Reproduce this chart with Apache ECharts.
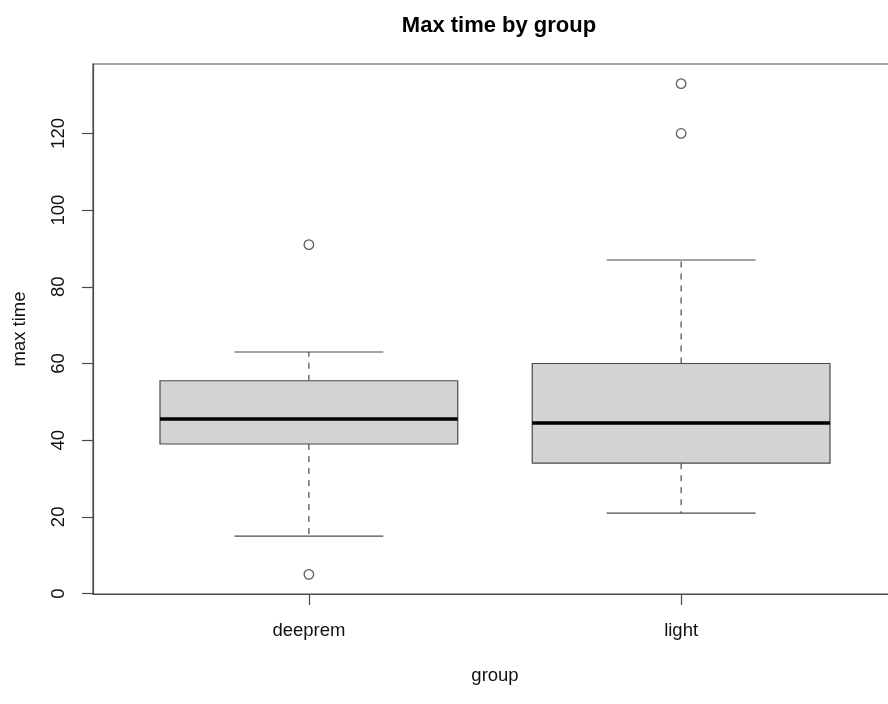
<!DOCTYPE html>
<html><head><meta charset="utf-8">
<script src="https://cdn.jsdelivr.net/npm/echarts@6/dist/echarts.min.js"></script>
<style>html,body{margin:0;padding:0;background:#fff}#c{width:888px;height:704px}</style>
</head><body><div id="c"></div>
<script>
const categories = ['deeprem', 'light'];
const groupPos = [1, 2];
const whiskerLow = [15, 21];
const quartile1 = [39, 34];
const medians = [45.5, 44.5];
const quartile3 = [55.5, 60];
const whiskerHigh = [63, 87];
const outlierGroup = [1, 1, 2, 2];
const outlierValues = [91, 5, 133, 120];
const yTicks = [0, 20, 40, 60, 80, 100, 120];

const boxData = categories.map((c, i) => [groupPos[i], whiskerLow[i], quartile1[i], medians[i], quartile3[i], whiskerHigh[i]]);
const outlierData = outlierValues.map((v, i) => [outlierGroup[i], v]);
const BOX_W = 0.8;
const FONT = 'Liberation Sans, Arial, Helvetica, sans-serif';
const LINE = '#4a4a4a';
const FS = 18.5;

function renderBox(params, api) {
  const x = api.value(0);
  const lo = api.value(1), q1 = api.value(2), med = api.value(3), q3 = api.value(4), hi = api.value(5);
  const half = BOX_W / 2, capHalf = BOX_W / 4;
  const tl = api.coord([x - half, q3]);
  const br = api.coord([x + half, q1]);
  const c = v => api.coord([x, v]);
  const line = (a, b, style) => ({ type: 'line', shape: { x1: a[0], y1: a[1], x2: b[0], y2: b[1] }, style: style });
  const dashed = { stroke: LINE, lineWidth: 1.2, lineDash: [6, 6] };
  const solid = { stroke: LINE, lineWidth: 1.2 };
  return {
    type: 'group',
    children: [
      line(c(q3), c(hi), dashed),
      line(c(q1), c(lo), dashed),
      line(api.coord([x - capHalf, hi]), api.coord([x + capHalf, hi]), solid),
      line(api.coord([x - capHalf, lo]), api.coord([x + capHalf, lo]), solid),
      { type: 'rect', shape: { x: tl[0], y: tl[1], width: br[0] - tl[0], height: br[1] - tl[1] },
        style: { fill: '#d3d3d3', stroke: LINE, lineWidth: 1.2 } },
      line(api.coord([x - half, med]), api.coord([x + half, med]), { stroke: '#000', lineWidth: 3.5 })
    ]
  };
}

const chart = echarts.init(document.getElementById('c'), null, { renderer: 'canvas' });
chart.setOption({
  animation: false,
  backgroundColor: '#fff',
  textStyle: { fontFamily: FONT },
  title: {
    text: 'Max time by group', left: 494, top: 10, textAlign: 'center',
    textStyle: { fontSize: 22, fontWeight: 'bold', color: '#000', fontFamily: FONT }
  },
  grid: { left: 93, top: 64, width: 804, height: 530, outerBoundsMode: 'none', containLabel: false,
    show: true, borderColor: LINE, borderWidth: 1.2, backgroundColor: 'transparent' },
  xAxis: {
    type: 'value', min: 0.42, max: 2.58,
    axisLine: { show: true, onZero: false, lineStyle: { color: LINE, width: 1.2 } },
    axisTick: { show: true, customValues: groupPos, length: 11, lineStyle: { color: LINE, width: 1.2 } },
    axisLabel: { customValues: groupPos, formatter: v => categories[groupPos.indexOf(v)], margin: 27, fontSize: FS, color: '#111', fontFamily: FONT },
    splitLine: { show: false },
    name: 'group', nameLocation: 'middle', nameGap: 72,
    nameTextStyle: { fontSize: FS, color: '#111', fontFamily: FONT }
  },
  yAxis: {
    type: 'value', min: -0.12, max: 138.12,
    axisLine: { show: true, lineStyle: { color: LINE, width: 1.2 } },
    axisTick: { show: true, customValues: yTicks, length: 11, lineStyle: { color: LINE, width: 1.2 } },
    axisLabel: { customValues: yTicks, rotate: 90, margin: 25, fontSize: FS, color: '#111', fontFamily: FONT },
    splitLine: { show: false },
    name: 'max time', nameLocation: 'middle', nameGap: 64,
    nameTextStyle: { fontSize: FS, color: '#111', fontFamily: FONT }
  },
  series: [
    {
      type: 'custom', renderItem: renderBox, data: boxData,
      encode: { x: 0, y: [1, 2, 3, 4, 5] }, clip: false
    },
    {
      type: 'scatter', data: outlierData, symbol: 'circle', symbolSize: 9.5,
      itemStyle: { color: '#fff', borderColor: '#333', borderWidth: 1.3 }
    }
  ]
});
</script></body></html>
